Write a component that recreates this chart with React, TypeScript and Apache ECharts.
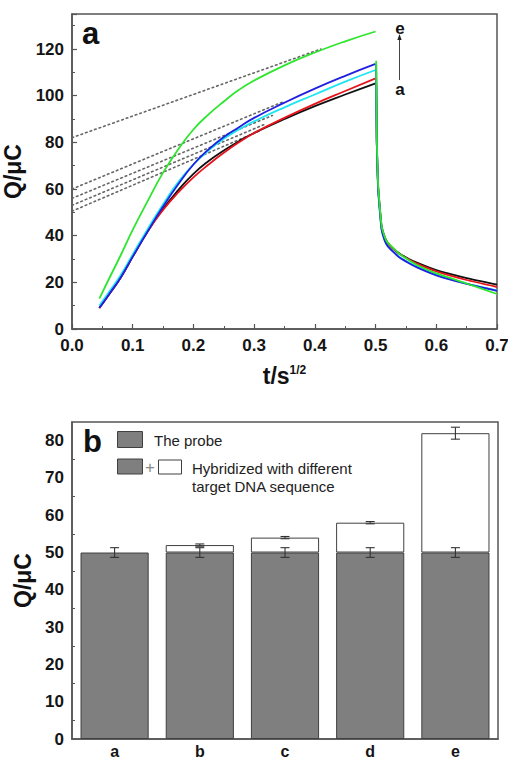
import React, { useEffect, useRef } from "react";
import * as echarts from "echarts";

// ---------- panel a : chronocoulometric curves ----------
const riseX = [0.045, 0.06, 0.08, 0.1, 0.125, 0.15, 0.175, 0.2, 0.225, 0.25, 0.275, 0.3, 0.35, 0.4, 0.45, 0.5];
const riseA = [9, 14.5, 22, 31, 42, 51.5, 59.5, 66.5, 72, 76.5, 80.5, 84, 90, 95.5, 100.5, 105.3];
const riseB = [9, 14.5, 22, 31, 42, 51, 58.5, 65, 70.5, 75.5, 80, 84, 90.5, 96.5, 102, 107.4];
const riseC = [10, 15.5, 23, 32, 43, 53.5, 63, 70.5, 76.5, 81.5, 85.5, 89, 95, 100.5, 106, 111];
const riseD = [9, 14.5, 22, 31, 42, 52.5, 62, 70.5, 77, 82.3, 86.5, 90.5, 97, 103, 108.5, 113.6];
const riseE = [13, 21, 31.5, 42.5, 55, 67, 77, 85.5, 92, 97.5, 102.5, 106.5, 113, 118.5, 123.3, 127.5];

const decayX = [0.501, 0.502, 0.504, 0.507, 0.51, 0.515, 0.52, 0.53, 0.54, 0.555, 0.57, 0.6, 0.65, 0.7];
const decayA = [105.3, 80, 62, 52, 44, 39.5, 37, 34.2, 32.3, 30, 28.2, 25.2, 21.8, 19];
const decayB = [107.4, 80, 62, 51.5, 43.5, 39, 36.5, 34, 32, 29.8, 27.8, 24.7, 21, 18];
const decayC = [111, 80, 61, 50.5, 42.5, 38, 35.5, 33, 30.8, 28.5, 26.5, 23.3, 19.5, 16.5];
const decayD = [113.6, 80, 61, 50.5, 42.5, 38, 35.5, 32.8, 30.5, 28.2, 26.2, 23, 19.3, 16.3];
const decayE = [115, 82, 63, 52, 44, 39.5, 37, 34.5, 32, 29.5, 27.2, 23.8, 19.5, 15];

// extrapolation (dotted) lines: [x0, y0, x1, y1]
const fitA = [0, 50.5, 0.31, 85];
const fitB = [0, 53, 0.32, 88];
const fitC = [0, 56, 0.33, 91.5];
const fitD = [0, 60, 0.348, 97.4];
const fitE = [0, 82, 0.41, 120];

const curveColors = ["#111111", "#e8141c", "#1ee6f0", "#2020e0", "#2ee62e"];

// ---------- panel b : bar chart ----------
const categories = ["a", "b", "c", "d", "e"];
const probeValues = [50, 50, 50, 50, 50];
const hybridIncrement = [null, 2, 4, 8, 32];
const totalValues = [50, 52, 54, 58, 82];
const probeErr = [1.3, 1.3, 1.3, 1.3, 1.3];
const totalErr = [null, 0.3, 0.3, 0.3, 1.6];

const FONT = "Liberation Sans, Arial, Helvetica, sans-serif";

function pairs(xs: number[], ys: number[]) {
  return xs.map((x, i) => [x, ys[i]]);
}

export default function App() {
  const ref = useRef<HTMLDivElement>(null);

  useEffect(() => {
    if (!ref.current) return;
    const chart = echarts.init(ref.current, null, { renderer: "svg" });

    const rises = [riseA, riseB, riseC, riseD, riseE];
    const decays = [decayA, decayB, decayC, decayD, decayE];
    const fits = [fitA, fitB, fitC, fitD, fitE];

    const lineSeries: any[] = [];
    fits.forEach((f) => {
      lineSeries.push({
        type: "line",
        xAxisIndex: 0,
        yAxisIndex: 0,
        data: [
          [f[0], f[1]],
          [f[2], f[3]],
        ],
        symbol: "none",
        lineStyle: { color: "#666", width: 1.6, type: [1.6, 3.2], cap: "round" },
        z: 1,
      });
    });
    rises.forEach((r, i) => {
      lineSeries.push({
        type: "line",
        xAxisIndex: 0,
        yAxisIndex: 0,
        data: pairs(riseX, r),
        symbol: "none",
        smooth: 0.5,
        lineStyle: { color: curveColors[i], width: 1.8 },
        z: 2,
      });
    });
    decays.forEach((d, i) => {
      lineSeries.push({
        type: "line",
        xAxisIndex: 0,
        yAxisIndex: 0,
        data: pairs(decayX, d),
        symbol: "none",
        smooth: 0.15,
        lineStyle: { color: curveColors[i], width: 1.8 },
        z: 2,
      });
    });

    const errData: any[] = [];
    categories.forEach((_, i) => {
      errData.push([i, probeValues[i], probeErr[i]]);
      if (totalErr[i] != null) errData.push([i, totalValues[i], totalErr[i]]);
    });

    const axisText = { fontFamily: FONT, fontWeight: "bold" as const, fontSize: 17, color: "#151515" };
    const axisLine = { show: true, lineStyle: { color: "#555", width: 1.5 } };

    const option: any = {
      animation: false,
      backgroundColor: "#ffffff",
      grid: [
        { left: 72, top: 14, width: 425, height: 315, show: true, borderColor: "#555", borderWidth: 1.5, backgroundColor: "transparent", containLabel: false, outerBoundsMode: "none" },
        { left: 72, top: 422, width: 426, height: 317, show: true, borderColor: "#555", borderWidth: 1.5, backgroundColor: "transparent", containLabel: false, outerBoundsMode: "none" },
      ],
      xAxis: [
        {
          gridIndex: 0,
          type: "value",
          min: 0,
          max: 0.7,
          interval: 0.1,
          axisLine,
          axisTick: { inside: true, length: 5, lineStyle: { color: "#555", width: 1.2 } },
          minorTick: { show: true, splitNumber: 2, length: 3, lineStyle: { color: "#555", width: 1 } },
          splitLine: { show: false },
          axisLabel: { ...axisText, margin: 8, formatter: (v: number) => v.toFixed(1) },
          name: "{m|t/s}{s|1/2}",
          nameLocation: "middle",
          nameGap: 35,
          nameTextStyle: {
            rich: {
              m: { fontFamily: FONT, fontWeight: "bold", fontSize: 23, color: "#111" },
              s: { fontFamily: FONT, fontWeight: "bold", fontSize: 12, color: "#111", verticalAlign: "top" },
            },
          },
        },
        {
          gridIndex: 1,
          type: "category",
          data: categories,
          axisLine,
          axisTick: { show: false },
          splitLine: { show: false },
          axisLabel: { ...axisText, fontSize: 16, margin: 4 },
        },
      ],
      yAxis: [
        {
          gridIndex: 0,
          type: "value",
          min: 0,
          max: 135,
          interval: 20,
          axisLine,
          axisTick: { inside: true, length: 5, lineStyle: { color: "#555", width: 1.2 } },
          minorTick: { show: true, splitNumber: 2, length: 3, lineStyle: { color: "#555", width: 1 } },
          splitLine: { show: false },
          axisLabel: { ...axisText, margin: 8, showMaxLabel: false },
          name: "Q/μC",
          nameLocation: "middle",
          nameGap: 38,
          nameRotate: 90,
          nameTextStyle: { fontFamily: FONT, fontWeight: "bold", fontSize: 23, color: "#111" },
        },
        {
          gridIndex: 1,
          type: "value",
          min: 0,
          max: 85,
          interval: 10,
          axisLine,
          axisTick: { inside: true, length: 5, lineStyle: { color: "#555", width: 1.2 } },
          minorTick: { show: true, splitNumber: 2, length: 3, lineStyle: { color: "#555", width: 1 } },
          splitLine: { show: false },
          axisLabel: { ...axisText, margin: 8, showMaxLabel: false },
          name: "Q/μC",
          nameLocation: "middle",
          nameGap: 38,
          nameRotate: 90,
          nameTextStyle: { fontFamily: FONT, fontWeight: "bold", fontSize: 23, color: "#111" },
        },
      ],
      series: [
        ...lineSeries,
        {
          type: "bar",
          xAxisIndex: 1,
          yAxisIndex: 1,
          stack: "total",
          data: probeValues,
          barCategoryGap: "20%",
          itemStyle: { color: "#7f7f7f", borderColor: "#404040", borderWidth: 1 },
          z: 2,
        },
        {
          type: "bar",
          xAxisIndex: 1,
          yAxisIndex: 1,
          stack: "total",
          data: hybridIncrement,
          barCategoryGap: "20%",
          itemStyle: { color: "#ffffff", borderColor: "#404040", borderWidth: 1 },
          z: 2,
        },
        {
          type: "custom",
          xAxisIndex: 1,
          yAxisIndex: 1,
          data: errData,
          encode: { x: 0, y: 1 },
          z: 5,
          renderItem: (params: any, api: any) => {
            const idx = api.value(0);
            const c = api.value(1);
            const e = api.value(2);
            const top = api.coord([idx, c + e]);
            const bot = api.coord([idx, c - e]);
            const hw = 4.5;
            const st = { stroke: "#333", lineWidth: 1.1 };
            return {
              type: "group",
              children: [
                { type: "line", shape: { x1: top[0], y1: top[1], x2: bot[0], y2: bot[1] }, style: st },
                { type: "line", shape: { x1: top[0] - hw, y1: top[1], x2: top[0] + hw, y2: top[1] }, style: st },
                { type: "line", shape: { x1: bot[0] - hw, y1: bot[1], x2: bot[0] + hw, y2: bot[1] }, style: st },
              ],
            };
          },
        },
      ],
      graphic: [
        // panel letters
        { type: "text", left: 82, top: 18, style: { text: "a", font: `bold 31px ${FONT}`, fill: "#111" } },
        { type: "text", left: 83, top: 426, style: { text: "b", font: `bold 31px ${FONT}`, fill: "#111" } },
        // a -> e arrow annotation
        { type: "text", x: 400, y: 28, style: { text: "e", font: `bold 17px ${FONT}`, fill: "#111", align: "center", verticalAlign: "middle" } },
        { type: "text", x: 400, y: 89, style: { text: "a", font: `bold 17px ${FONT}`, fill: "#111", align: "center", verticalAlign: "middle" } },
        { type: "line", shape: { x1: 399.5, y1: 80, x2: 399.5, y2: 36 }, style: { stroke: "#444", lineWidth: 1 } },
        { type: "polygon", shape: { points: [[397.3, 40], [401.7, 40], [399.5, 34]] }, style: { fill: "#222" } },
        // legend for panel b
        { type: "rect", shape: { x: 117.5, y: 431.5, width: 25, height: 16 }, style: { fill: "#7f7f7f", stroke: "#404040", lineWidth: 1 } },
        { type: "text", x: 154, y: 440, style: { text: "The probe", font: `15px ${FONT}`, fill: "#222", verticalAlign: "middle" } },
        { type: "rect", shape: { x: 117.5, y: 459, width: 25, height: 15 }, style: { fill: "#7f7f7f", stroke: "#404040", lineWidth: 1 } },
        { type: "text", x: 150, y: 467, style: { text: "+", font: `17px ${FONT}`, fill: "#888", align: "center", verticalAlign: "middle" } },
        { type: "rect", shape: { x: 158.5, y: 460, width: 23, height: 14 }, style: { fill: "#fff", stroke: "#404040", lineWidth: 1 } },
        { type: "text", x: 192, y: 468, style: { text: "Hybridized with different", font: `15px ${FONT}`, fill: "#222", verticalAlign: "middle" } },
        { type: "text", x: 192, y: 486, style: { text: "target DNA sequence", font: `15px ${FONT}`, fill: "#222", verticalAlign: "middle" } },
      ],
    };

    chart.setOption(option);
    return () => chart.dispose();
  }, []);

  return (
    <div
      ref={ref}
      style={{ position: "absolute", left: 0, top: 0, width: 508, height: 760, background: "#fff" }}
    />
  );
}
